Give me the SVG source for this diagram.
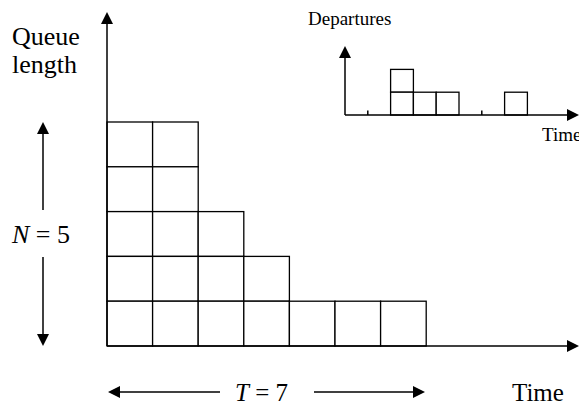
<svg xmlns="http://www.w3.org/2000/svg" width="579" height="406" viewBox="0 0 579 406">
<style>
.ax{stroke:#000;stroke-width:1.5;fill:none}
.cell{fill:#fff;stroke:#000;stroke-width:1.3}
.head{fill:#000}
text{font-family:"Liberation Serif","Times New Roman",serif;fill:#000}
.big{font-size:26px}
.mid{font-size:25px}
.small{font-size:19px}
</style>
<rect width="579" height="406" fill="#fff"/>
<g id="queue-grid">
<rect class="cell" x="107" y="122" width="45.6" height="44.8"/>
<rect class="cell" x="107" y="166.8" width="45.6" height="44.8"/>
<rect class="cell" x="107" y="211.6" width="45.6" height="44.8"/>
<rect class="cell" x="107" y="256.4" width="45.6" height="44.8"/>
<rect class="cell" x="107" y="301.2" width="45.6" height="44.8"/>
<rect class="cell" x="152.6" y="122" width="45.6" height="44.8"/>
<rect class="cell" x="152.6" y="166.8" width="45.6" height="44.8"/>
<rect class="cell" x="152.6" y="211.6" width="45.6" height="44.8"/>
<rect class="cell" x="152.6" y="256.4" width="45.6" height="44.8"/>
<rect class="cell" x="152.6" y="301.2" width="45.6" height="44.8"/>
<rect class="cell" x="198.2" y="211.6" width="45.6" height="44.8"/>
<rect class="cell" x="198.2" y="256.4" width="45.6" height="44.8"/>
<rect class="cell" x="198.2" y="301.2" width="45.6" height="44.8"/>
<rect class="cell" x="243.8" y="256.4" width="45.6" height="44.8"/>
<rect class="cell" x="243.8" y="301.2" width="45.6" height="44.8"/>
<rect class="cell" x="289.4" y="301.2" width="45.6" height="44.8"/>
<rect class="cell" x="335" y="301.2" width="45.6" height="44.8"/>
<rect class="cell" x="380.6" y="301.2" width="45.6" height="44.8"/>
</g>
<g id="departures-grid">
<rect class="cell" x="390.6" y="69.4" width="22.8" height="22.8"/>
<rect class="cell" x="390.6" y="92.2" width="22.8" height="22.8"/>
<rect class="cell" x="413.4" y="92.2" width="22.8" height="22.8"/>
<rect class="cell" x="436.2" y="92.2" width="22.8" height="22.8"/>
<rect class="cell" x="504.6" y="92.2" width="22.8" height="22.8"/>
</g>
<g id="connectors">
<line class="ax" x1="107" y1="346" x2="107" y2="23"/>
<polygon class="head" points="107,12 101,24 113,24"/>
<line class="ax" x1="107" y1="346" x2="568" y2="346"/>
<polygon class="head" points="579,346 567,340 567,352"/>
<line class="ax" x1="43" y1="210" x2="43" y2="133"/>
<polygon class="head" points="43,122 37,134 49,134"/>
<line class="ax" x1="43" y1="257" x2="43" y2="335"/>
<polygon class="head" points="43,346 37,334 49,334"/>
<line class="ax" x1="220" y1="392" x2="119" y2="392"/>
<polygon class="head" points="108,392 120,386 120,398"/>
<line class="ax" x1="314" y1="392" x2="414" y2="392"/>
<polygon class="head" points="425,392 413,386 413,398"/>
<line class="ax" x1="345" y1="115" x2="345" y2="57"/>
<polygon class="head" points="345,46 339,58 351,58"/>
<line class="ax" x1="345" y1="115" x2="568" y2="115"/>
<polygon class="head" points="579,115 567,109 567,121"/>
<line class="ax" x1="367.8" y1="115" x2="367.8" y2="110.5"/>
<line class="ax" x1="481.8" y1="115" x2="481.8" y2="110.5"/>
</g>
<g id="labels">
<text class="big" x="12" y="45">Queue</text>
<text class="big" x="12" y="73">length</text>
<text class="big" x="12" y="243"><tspan font-style="italic">N</tspan> = 5</text>
<text class="mid" x="235" y="401"><tspan font-style="italic">T</tspan> = 7</text>
<text class="mid" x="512" y="401">Time</text>
<text class="small" x="308" y="25">Departures</text>
<text class="small" x="542" y="141">Time</text>
</g>
</svg>
